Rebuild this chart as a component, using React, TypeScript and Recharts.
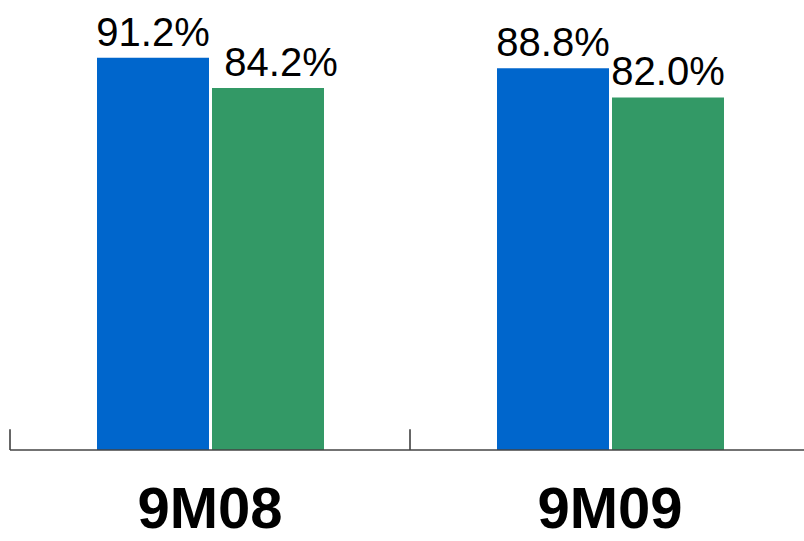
import React from "react";
import { BarChart, Bar, XAxis, YAxis, LabelList, ReferenceLine } from "recharts";

const categories = ["9M08", "9M09"];
const seriesA = [91.2, 88.8];
const seriesB = [84.2, 82.0];
const boundaryTicks = ["9M08", "9M09"];

const data = categories.map((c, i) => ({ name: c, a: seriesA[i], b: seriesB[i] }));

const fmt = (v: number) => `${v.toFixed(1)}%`;
const labelStyle = { fontFamily: "Liberation Sans, Arial, sans-serif", fontSize: 40, fill: "#000" };

const makeLabel = (shiftFirst: number) => (props: any) => {
  const { x, y, width, value, index } = props;
  const dx = index === 0 ? shiftFirst : 0;
  return (
    <text x={x + width / 2 + dx} y={y - 12} textAnchor="middle" style={labelStyle}>
      {fmt(value)}
    </text>
  );
};

export default function App() {
  return (
    <div style={{ position: "absolute", left: 0, top: 0, width: 804, height: 541, overflow: "hidden", background: "#fff" }}>
      <BarChart
        width={820}
        height={541}
        data={data}
        margin={{ top: 20, right: 10, bottom: 0, left: 10 }}
        barCategoryGap="21.75%"
        barGap={3}
      >
        <XAxis
          dataKey="name"
          height={91}
          tickLine={false}
          axisLine={{ stroke: "#444", strokeWidth: 1.5 }}
          tick={{ fontFamily: "Liberation Sans, Arial, sans-serif", fontSize: 58, fontWeight: "bold", fill: "#000" }}
          dy={29}
          interval={0}
        />
        <YAxis hide domain={[0, 100]} />
        {boundaryTicks.map((c) => (
          <ReferenceLine
            key={c}
            segment={[{ x: c, y: 0 }, { x: c, y: 4.8 }]}
            position="start"
            stroke="#333"
            strokeWidth={1.5}
          />
        ))}
        <Bar dataKey="a" fill="#0066CC" isAnimationActive={false}>
          <LabelList dataKey="a" content={makeLabel(0)} />
        </Bar>
        <Bar dataKey="b" fill="#339966" isAnimationActive={false}>
          <LabelList dataKey="b" content={makeLabel(13)} />
        </Bar>
      </BarChart>
    </div>
  );
}
